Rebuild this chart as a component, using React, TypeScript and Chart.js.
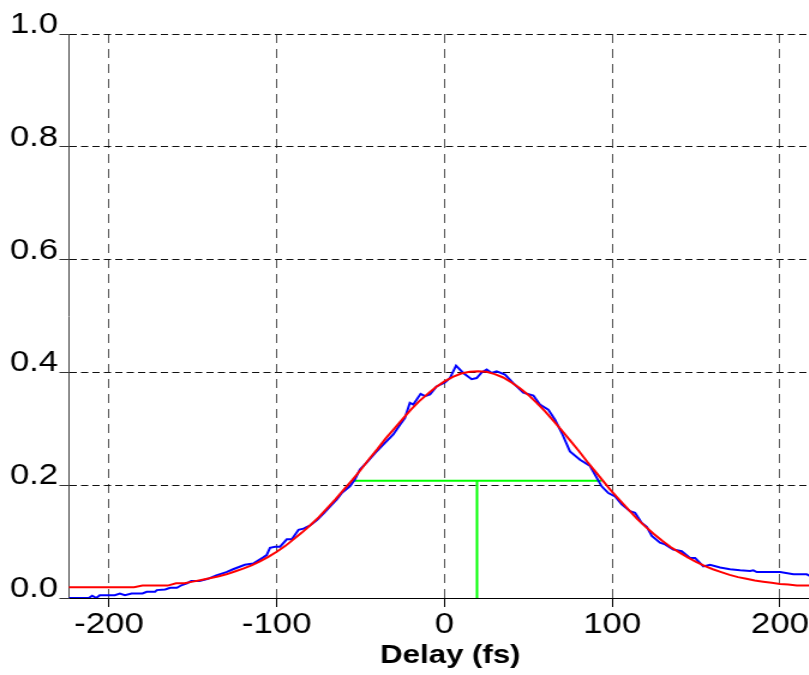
import React, { useEffect, useRef } from 'react';
import { Chart, registerables } from 'chart.js';

Chart.register(...registerables);

// Measured trace (blue)
const blueX = [
  -224, -218, -212, -210, -207.5, -205.5, -200, -196.5, -193.5, -190.5, -186.5, -180, -177.5, -172.5, -171.5,
  -166.5, -163.5, -159.5, -156.5, -153.5, -151, -146, -141, -136, -130, -126, -119, -114, -108, -106, -104,
  -101, -98, -94, -91, -87, -84, -80, -76, -72, -68, -64.3, -61.3, -56.4, -53.4, -50.4, -46.4, -41.4, -36.5,
  -30.5, -26.5, -23.6, -20.6, -18.6, -14.2, -11.6, -8.6, -4.7, 0.3, 3.3, 6.9, 11.2, 16.2, 19.2, 22.2, 25.2,
  28.1, 31.1, 36.1, 41, 47, 53, 56.9, 61.9, 65.9, 69.9, 74.8, 80.8, 86.8, 90.8, 93.7, 97.7, 101.7, 105.7,
  110.6, 113.6, 117.6, 120.6, 123.6, 128.5, 131.5, 136.4, 141.4, 146.4, 149.4, 154.3, 158.3, 164.3, 170.2,
  176.2, 182.2, 184.1, 186.2, 200.1, 208, 216, 218, 225, 231,
];
const blueY = [
  0.0, 0.0, 0.0, 0.004, 0.0, 0.005, 0.005, 0.005, 0.008, 0.005, 0.008, 0.008, 0.011, 0.011, 0.014,
  0.015, 0.018, 0.018, 0.023, 0.026, 0.03, 0.03, 0.034, 0.04, 0.046, 0.051, 0.059, 0.061, 0.072, 0.076, 0.089,
  0.091, 0.091, 0.104, 0.104, 0.121, 0.123, 0.129, 0.138, 0.15, 0.163, 0.1745, 0.186, 0.198, 0.21, 0.228, 0.24, 0.257, 0.272,
  0.29, 0.307, 0.319, 0.346, 0.343, 0.362, 0.358, 0.361, 0.375, 0.382, 0.39, 0.412, 0.399, 0.388, 0.39, 0.4, 0.405,
  0.399, 0.402, 0.396, 0.381, 0.364, 0.359, 0.343, 0.334, 0.316, 0.293, 0.26, 0.245, 0.234, 0.213, 0.198, 0.186, 0.18, 0.166,
  0.154, 0.151, 0.133, 0.126, 0.11, 0.098, 0.095, 0.086, 0.083, 0.071, 0.071, 0.056, 0.059, 0.054, 0.051,
  0.049, 0.048, 0.049, 0.046, 0.046, 0.042, 0.042, 0.039, 0.038, 0.037,
];

// Fitted curve (red)
const redX = [
  -225, -220, -215, -210, -205, -200, -195, -190, -185, -180, -175, -170, -165, -160, -155, -150, -145, -140,
  -135, -130, -125, -120, -115, -110, -105, -100, -95, -90, -85, -80, -75, -70, -65, -60, -55, -50, -45, -40,
  -35, -30, -25, -20, -15, -10, -5, 0, 5, 10, 15, 20, 25, 30, 35, 40, 45, 50, 55, 60, 65, 70, 75, 80, 85, 90,
  95, 100, 105, 110, 115, 120, 125, 130, 135, 140, 145, 150, 155, 160, 165, 170, 175, 180, 185, 190, 195, 200,
  205, 210, 215, 220, 225, 230,
];
const redY = [
  0.019, 0.019, 0.019, 0.019, 0.019, 0.019, 0.019, 0.019, 0.019, 0.022, 0.022, 0.022, 0.022, 0.026, 0.026, 0.029, 0.032, 0.035,
  0.038, 0.042, 0.047, 0.052, 0.058, 0.065, 0.073, 0.082, 0.092, 0.104, 0.116, 0.129, 0.143, 0.159, 0.175, 0.192, 0.209, 0.227, 0.246, 0.264,
  0.283, 0.3, 0.317, 0.334, 0.349, 0.362, 0.374, 0.384, 0.392, 0.398, 0.401, 0.402, 0.401, 0.397, 0.391, 0.382, 0.372, 0.36, 0.346, 0.331, 0.314, 0.297, 0.279, 0.261, 0.242, 0.224,
  0.206, 0.188, 0.172, 0.156, 0.14, 0.126, 0.113, 0.101, 0.09, 0.081, 0.072, 0.064, 0.057, 0.051, 0.046, 0.041, 0.037, 0.034, 0.031, 0.029, 0.027, 0.025,
  0.024, 0.022, 0.022, 0.022, 0.022, 0.022,
];

// FWHM marker (green)
const fwhmX = [-54.7, 93.7];
const fwhmY = [0.208, 0.208];
const centerX = [19.4, 19.4];
const centerY = [0.208, 0];

const xTickValues = [-200, -100, 0, 100, 200];
const yTickValues = [0, 0.2, 0.4, 0.6, 0.8, 1.0];
const xTitle = 'Delay (fs)';

const FONT = "'Liberation Sans', Arial, Helvetica, sans-serif";

const zip = (xs: number[], ys: number[]) => xs.map((x, i) => ({ x, y: ys[i] }));

export default function App() {
  const ref = useRef<HTMLCanvasElement | null>(null);

  useEffect(() => {
    if (!ref.current) return;
    const chart = new Chart(ref.current, {
      type: 'line',
      data: {
        datasets: [
          { data: zip(redX, redY), borderColor: '#ff0000', borderWidth: 2, pointRadius: 0, tension: 0 },
          { data: zip(blueX, blueY), borderColor: '#0000ff', borderWidth: 2, pointRadius: 0, tension: 0 },
          { data: zip(fwhmX, fwhmY), borderColor: '#00ff00', borderWidth: 2, pointRadius: 0 },
          { data: zip(centerX, centerY), borderColor: '#00ff00', borderWidth: 2, pointRadius: 0 },
        ],
      },
      options: {
        animation: false,
        responsive: false,
        devicePixelRatio: 1,
        layout: { padding: { top: 34, left: 0, right: 0, bottom: 0 } },
        plugins: { legend: { display: false }, tooltip: { enabled: false } },
        scales: {
          x: {
            type: 'linear',
            min: -223.8,
            max: 230.8,
            afterFit: (s: any) => { s.height = 77; },
            afterBuildTicks: (s: any) => { s.ticks = xTickValues.map((v) => ({ value: v })); },
            ticks: {
              includeBounds: false,
              stepSize: 100,
              padding: 1,
              color: '#000',
              font: { family: FONT, size: 29 },
              maxRotation: 0,
              autoSkip: false,
            },
            grid: { color: '#555', lineWidth: 1, tickLength: 9, tickColor: '#000', tickBorderDash: [] } as any,
            border: { color: '#000', width: 1, dash: [9, 6] } as any,
            title: {
              display: true,
              text: xTitle,
              color: '#000',
              font: { family: FONT, size: 26, weight: 'bold' },
              padding: { top: 0, bottom: 4 },
            },
          },
          y: {
            type: 'linear',
            min: 0,
            max: 1,
            afterFit: (s: any) => { s.width = 57.5; },
            afterBuildTicks: (s: any) => { s.ticks = yTickValues.map((v) => ({ value: v })); },
            ticks: {
              stepSize: 0.2,
              padding: 1,
              labelOffset: -9,
              color: '#000',
              font: { family: FONT, size: 29 },
              callback: (v: any) => Number(v).toFixed(1),
            },
            grid: { color: '#111', lineWidth: 1, tickLength: 8, tickColor: '#333', tickBorderDash: [] } as any,
            border: { color: '#444', width: 1, dash: [6, 3.5] } as any,
          },
        },
      },
    });
    return () => chart.destroy();
  }, []);

  return (
    <div style={{ position: 'absolute', left: 0, top: 0, width: 809, height: 675, overflow: 'hidden', background: '#fff' }}>
      <div style={{ width: 693, height: 675, transform: 'scaleX(1.2)', transformOrigin: '0 0' }}>
        <canvas ref={ref} width={693} height={675} style={{ display: 'block', width: 693, height: 675 }} />
      </div>
    </div>
  );
}
